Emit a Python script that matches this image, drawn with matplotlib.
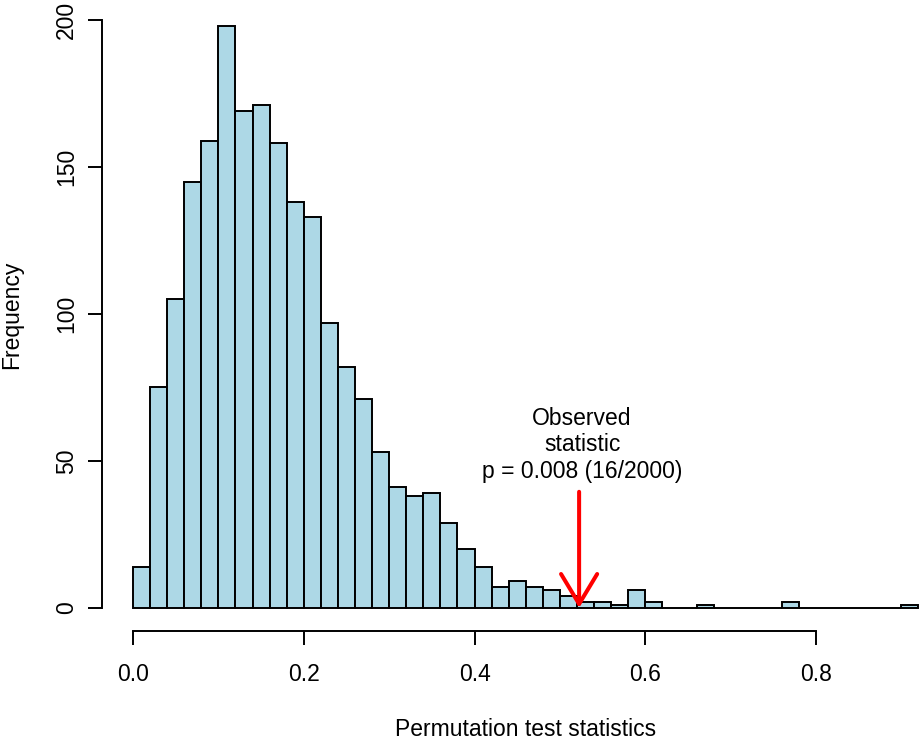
import matplotlib.pyplot as plt
import numpy as np

plt.rcParams['font.family'] = ['Liberation Sans', 'DejaVu Sans']

# histogram bins (width 0.02) and counts
bin_edges = np.round(np.arange(0, 0.9401, 0.02), 2)
counts = [14, 75, 105, 145, 159, 198, 169, 171, 158, 138,
          133, 97, 82, 71, 53, 41, 38, 39, 29, 20,
          14, 7, 9, 7, 6, 4, 2, 2, 1, 6,
          2, 0, 0, 1, 0, 0, 0, 0, 2, 0,
          0, 0, 0, 0, 0, 1]
observed = 0.5225
arrow_top = 39.5
label = "Observed\nstatistic\np = 0.008 (16/2000)"

W, H = 922, 741
fig = plt.figure(figsize=(W / 100, H / 100), dpi=100)
# plot region like R: xlim/ylim padded by 4%
xlim = (-0.0368, 0.9568)
ylim = (-7.92, 205.92)
left = 101.6 / W
width = (949.9 - 101.6) / W
bottom = (H - 631.2) / H
height = (631.2 - 2.6) / H
ax = fig.add_axes([left, bottom, width, height])

n = len(counts)
ax.bar(bin_edges[:n], counts, width=0.02, align='edge',
       color='#ADD8E6', edgecolor='black', linewidth=1.4)

ax.annotate('', xy=(observed, 0), xytext=(observed, arrow_top),
            arrowprops=dict(arrowstyle='->,head_length=1.08,head_width=0.65',
                            mutation_scale=20, color='red', lw=2.9,
                            shrinkA=0, shrinkB=0))
ax.text(observed + 0.0035, 42.5, label, ha='center', va='bottom',
        fontsize=16.5, linespacing=1.2)

ax.set_xlim(*xlim)
ax.set_ylim(*ylim)
for s in ['top', 'right']:
    ax.spines[s].set_visible(False)
ax.spines['left'].set_bounds(0, 200)
ax.spines['bottom'].set_bounds(0, 0.8)
ax.spines['left'].set_linewidth(1.4)
ax.spines['bottom'].set_linewidth(1.4)

ax.set_xticks([0.0, 0.2, 0.4, 0.6, 0.8])
ax.set_xticklabels(['0.0', '0.2', '0.4', '0.6', '0.8'])
ax.set_yticks([0, 50, 100, 150, 200])
ax.tick_params(axis='both', length=10, width=1.4, labelsize=16.5)
ax.tick_params(axis='x', pad=13)
ax.tick_params(axis='y', pad=7)
for t in ax.get_yticklabels():
    t.set_rotation(90)
    t.set_va('center')

fig.text(526 / W, 1 - 729.5 / H, 'Permutation test statistics', ha='center', va='center', fontsize=16.5)
fig.text(12 / W, 1 - 315 / H, 'Frequency', ha='center', va='center', rotation=90, fontsize=16.5)

plt.savefig('out.png', dpi=100)
